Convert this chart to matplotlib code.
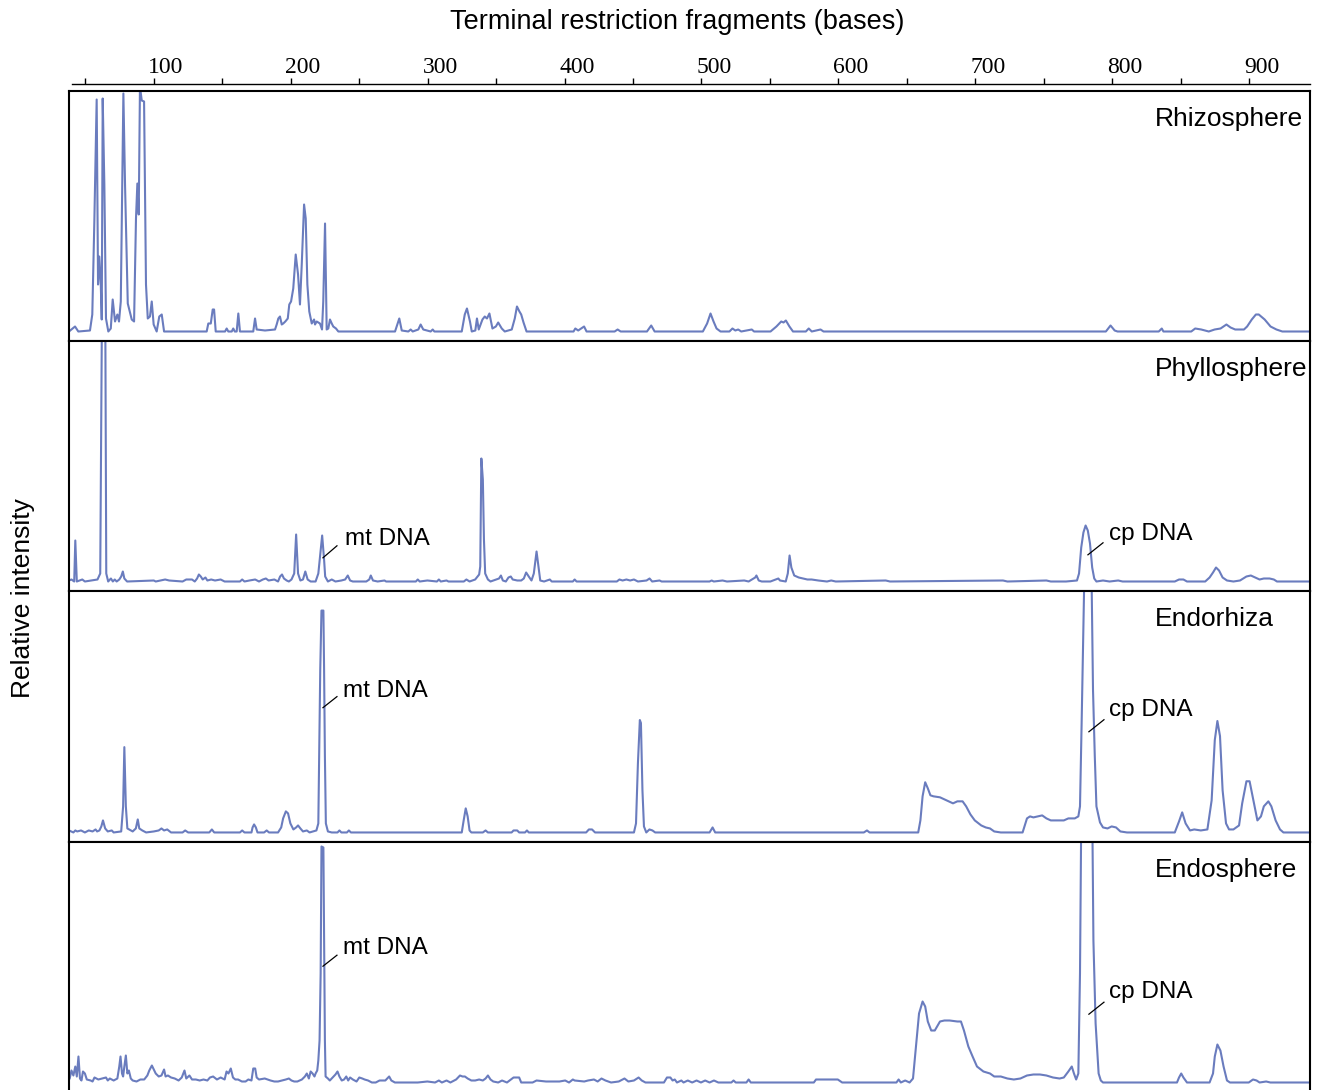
import matplotlib
matplotlib.use("Agg")
import matplotlib.pyplot as plt
from matplotlib.ticker import FixedLocator
from matplotlib.transforms import ScaledTranslation

plt.rcParams["font.family"] = ["Liberation Sans", "DejaVu Sans"]

LINE = "#6a7cbe"
XMIN, XMAX = 38.3, 944.2

# T-RFLP traces: (fragment length in bases, relative intensity)
rhizo = [(38.3,0),(42.7,5),(45.1,0),(53.6,1),(55.3,17),(56.8,110),(58.5,232),(59.5,47),(60.4,75),(61.5,47),
 (62.2,12),(62.9,233),(64.1,147),(65.3,13),(67.0,0),(68.8,3),(70.2,32),(71.9,10),(73.6,17),(74.8,10),(76.1,30),
 (78.0,238),(79.2,147),(81.2,28),(84.1,12),(85.8,10),(87.2,113),(88.2,148),(89.2,117),(90.1,245),(91.4,231),
 (93.1,230),(94.5,47),(95.8,13),(97.4,15),(98.7,30),(100.1,7),(102.3,0),(104.2,15),(106.0,17),(107.7,0),
 (138.8,0),(140.0,8),(141.8,8),(143.2,22),(144.2,22),(145.4,0),(152.2,0),(153.4,3),(154.6,0),(157.1,0),(158.2,3),
 (159.3,0),(160.7,0),(161.9,18),(163.1,0),(172.8,0),(174.1,13),(175.3,2),(181.4,1),(188.7,2),(189.9,7),(191.1,13),
 (192.3,15),(193.6,7),(194.7,8),(196.2,10),(198.0,13),(199.1,27),(200.4,30),(202.0,43),(203.8,77),(205.5,57),
 (206.9,27),(208.2,67),(209.9,127),(211.1,113),(212.3,47),(213.7,20),(215.5,8),(217.2,12),(217.9,7),(219.1,10),
 (220.3,9),(221.5,8),(223.0,2),(223.9,30),(225.2,108),(226.4,2),(227.6,3),(228.8,12),(230.1,8),(231.2,5),
 (233.2,3),(234.9,0),(276.3,0),(278.0,7),(279.4,13),(281.2,1),(286.0,0),(287.7,2),(289.2,0),(293.3,2),(295.0,7),
 (296.9,2),(302.3,0),(303.8,2),(305.0,0),(325.0,0),(327.2,17),(328.8,23),(331.0,10),(332.3,0),(334.9,1),
 (336.1,13),(337.4,2),(340.1,12),(341.8,15),(343.4,13),(345.2,18),(347.4,3),(349.9,5),(351.6,9),(354.2,3),
 (356.4,0),(361.5,2),(363.7,13),(365.3,25),(367.1,20),(368.4,17),(370.1,9),(372.3,0),(406.6,0),(407.9,3),
 (410.0,1),(414.3,5),(416.1,0),(436.6,0),(438.8,2),(441.0,0),(460.2,0),(463.3,6),(465.8,0),(501.0,0),(504.1,8),
 (506.6,18),(508.8,10),(511.0,3),(513.9,0),(520.4,0),(522.6,3),(524.7,1),(526.8,2),(529.0,0),(536.7,2),(538.4,0),
 (550.4,0),(554.7,5),(558.2,10),(559.9,9),(561.6,11),(564.2,5),(566.8,0),(576.2,0),(578.3,3),(580.5,0),(586.9,2),
 (589.1,0),(795.2,0),(798.6,6),(801.6,1),(803.7,0),(833.8,0),(836.0,3),(837.2,0),(857.5,0),(860.4,3),(864.8,2),
 (870.3,0),(874.6,2),(878.9,3),(883.2,7),(886.2,4),(889.6,2),(896.0,2),(898.3,5),(901.7,12),(904.7,17),
 (906.8,17),(911.1,12),(915.4,5),(919.7,2),(924.0,0),(944.2,0)]

phyllo = [(38.3,1),(40.1,2),(42.1,0),(42.9,41),(44.0,0),(48.0,2),(49.9,0),(59.1,2),(61.1,8),(62.5,300),(64.7,300),
 (65.5,8),(66.9,0),(68.9,3),(70.3,0),(71.7,2),(73.1,0),(75.0,2),(76.4,5),(77.6,10),(78.7,3),(80.7,0),(100.2,1),
 (101.6,0),(108.5,2),(111.4,1),(121.2,0),(123.9,2),(128.1,2),(130.1,0),(131.8,3),(133.1,7),(134.5,5),(135.9,2),
 (137.9,4),(139.3,1),(142.1,2),(144.9,1),(149.0,2),(151.9,0),(163.1,0),(164.7,2),(166.4,0),(170.0,1),(174.2,2),
 (177.0,0),(179.8,2),(182.0,3),(184.0,1),(188.2,2),(190.9,0),(192.4,5),(193.8,7),(195.2,3),(197.2,1),(198.8,0),
 (200.7,2),(202.7,8),(204.1,47),(205.5,8),(207.2,1),(209.1,2),(210.8,10),(212.5,2),(214.7,0),(218.3,0),(220.3,8),
 (223.1,46),(224.5,22),(225.3,5),(227.3,0),(230.1,2),(232.8,0),(237.1,1),(239.9,2),(241.8,6),(243.5,1),(245.5,0),
 (255.3,0),(257.5,2),(258.6,6),(260.2,1),(263.6,0),(268.6,1),(269.8,0),(291.5,0),(292.9,2),(294.3,0),(299.9,1),
 (306.9,0),(308.3,2),(309.7,0),(313.9,1),(315.3,0),(326.5,0),(328.4,2),(330.7,0),(334.8,2),(337.7,7),(338.5,15),
 (339.3,123),(340.4,102),(341.2,42),(342.1,8),(344.1,2),(346.0,0),(350.2,2),(352.2,3),(353.6,6),(355.0,1),
 (357.2,0),(359.1,4),(360.8,5),(362.2,2),(365.5,1),(368.4,1),(370.3,3),(372.0,9),(373.9,5),(375.9,1),(377.6,8),
 (379.6,30),(381.0,15),(382.3,1),(385.1,0),(389.3,2),(390.7,0),(406.1,0),(407.4,2),(408.8,0),(438.2,0),(440.1,2),
 (442.4,1),(445.2,2),(447.9,1),(450.7,2),(453.6,0),(459.9,1),(462.1,3),(464.0,0),(469.4,1),(470.9,0),(505.9,0),
 (507.4,1),(509.0,0),(515.4,1),(518.6,0),(531.2,1),(534.4,0),(539.2,4),(540.1,6),(541.8,1),(544.0,0),(550.3,0),
 (556.1,3),(557.3,1),(561.5,0),(563.0,8),(564.3,26),(565.6,14),(567.7,6),(571.0,4),(574.1,3),(577.3,2),(580.4,2),
 (585.3,1),(591.6,0),(594.7,1),(598.0,0),(634.5,1),(637.6,0),(720.1,1),(723.3,0),(751.8,1),(755.0,0),(766.1,0),
 (774.1,1),(775.6,8),(777.2,34),(778.8,49),(780.4,56),(782.0,51),(783.6,38),(785.2,14),(786.7,3),(788.3,0),
 (793.1,1),(797.9,0),(804.2,1),(807.4,0),(845.5,0),(848.6,2),(851.8,2),(854.4,0),(867.7,0),(870.9,4),(873.4,9),
 (875.6,14),(877.8,11),(880.4,4),(883.6,1),(888.3,0),(893.1,1),(897.8,5),(901.0,6),(904.2,4),(907.4,2),(910.5,3),
 (914.7,3),(917.8,2),(920.1,0),(944.2,0)]

endorhiza = [(38.3,2),(41.5,0),(42.9,2),(44.3,1),(47.1,2),(49.9,0),(52.7,2),(55.5,1),(57.7,3),(58.8,1),(60.5,2),
 (61.9,6),(63.1,12),(64.7,4),(66.6,1),(69.5,2),(70.9,0),(76.4,1),(77.8,26),(78.7,85),(79.8,26),(80.9,4),(83.4,2),
 (84.8,1),(87.1,4),(88.5,13),(89.6,4),(91.8,2),(94.6,0),(100.2,1),(103.8,2),(105.8,4),(107.7,2),(110.0,3),
 (112.8,0),(121.2,0),(123.1,2),(125.3,0),(140.7,0),(142.6,3),(144.3,0),(163.1,0),(164.7,2),(166.4,0),(171.5,0),
 (172.3,5),(173.4,8),(174.7,5),(175.9,0),(180.7,0),(182.6,2),(184.3,0),(190.9,0),(193.2,5),(194.6,14),(196.6,21),
 (198.2,19),(199.9,9),(202.1,3),(204.1,5),(205.5,7),(207.2,4),(209.1,1),(211.9,2),(213.9,0),(218.9,2),(220.3,9),
 (221.7,162),(222.6,221),(224.0,221),(224.5,164),(225.1,76),(225.8,9),(227.3,1),(230.1,0),(234.3,0),(235.7,2),
 (237.1,0),(241.2,0),(242.6,2),(244.1,0),(325.0,0),(326.4,12),(327.9,24),(329.3,16),(330.7,2),(332.0,0),
 (340.4,0),(342.4,2),(344.1,0),(361.4,0),(362.8,2),(365.5,2),(366.9,0),(371.2,0),(372.6,2),(373.9,0),(415.8,0),
 (417.8,3),(420.1,3),(422.3,0),(450.7,0),(452.2,9),(453.6,69),(455.0,112),(455.8,109),(456.9,42),(458.0,6),
 (459.7,0),(462.0,3),(464.2,2),(466.2,0),(505.9,0),(508.1,5),(510.0,0),(618.5,0),(620.8,2),(622.7,0),(658.2,0),
 (659.8,12),(661.4,36),(663.3,50),(665.2,44),(667.1,37),(669.3,36),(674.1,35),(678.8,32),(683.6,29),(686.8,31),
 (690.6,31),(693.2,26),(696.3,18),(699.5,12),(704.2,7),(707.5,5),(710.6,4),(713.7,1),(718.5,0),(734.4,0),
 (737.6,14),(739.8,16),(742.3,15),(745.5,16),(748.7,17),(751.8,14),(755.0,12),(759.8,12),(764.5,12),(767.8,14),
 (772.5,14),(775.1,16),(776.3,26),(777.5,109),(778.8,209),(779.8,280),(784.5,280),(785.8,142),(787.1,76),
 (788.3,26),(790.9,10),(793.1,5),(796.4,4),(799.4,6),(802.6,5),(805.8,1),(810.6,0),(845.5,0),(848.6,11),
 (850.9,20),(853.4,9),(856.6,2),(859.7,3),(864.5,2),(869.3,3),(872.4,32),(874.7,92),(876.6,111),(878.5,96),
 (880.4,42),(882.9,9),(885.1,3),(888.3,3),(892.4,7),(894.7,29),(897.8,51),(900.1,51),(903.3,29),(905.8,12),
 (908.4,16),(910.5,26),(913.8,31),(916.0,26),(919.1,12),(922.3,3),(924.8,0),(944.2,0)]

endosphere = [(38.3,3),(38.8,4),(40.1,12),(41.5,7),(42.9,16),(44.0,6),(45.2,26),(46.3,4),(47.4,2),(48.5,11),
 (49.9,9),(51.3,3),(54.1,2),(55.5,1),(56.9,5),(59.7,3),(62.5,4),(65.3,5),(66.6,2),(68.1,4),(70.9,2),(73.6,4),
 (75.0,16),(75.9,26),(77.0,9),(77.8,6),(78.7,16),(79.8,27),(80.9,9),(82.0,12),(83.4,4),(84.8,2),(87.6,1),(90.4,3),
 (93.2,3),(95.5,7),(96.9,12),(98.8,17),(100.2,13),(101.6,9),(103.8,6),(105.8,7),(107.7,13),(108.8,6),(110.5,7),
 (112.8,5),(115.5,4),(118.3,2),(120.6,5),(122.6,12),(123.9,4),(126.2,7),(128.1,3),(130.9,3),(133.7,2),(136.5,3),
 (139.3,2),(141.2,5),(143.5,6),(146.3,3),(149.0,5),(151.9,3),(153.3,11),(154.7,9),(156.4,14),(158.0,5),(159.7,3),
 (161.7,3),(164.5,1),(167.2,1),(169.2,3),(171.5,2),(172.8,14),(174.2,14),(175.3,5),(177.0,3),(181.2,4),(185.4,2),
 (188.2,1),(190.9,1),(193.7,2),(196.6,3),(198.8,4),(200.7,2),(202.7,1),(205.0,1),(208.3,3),(210.5,6),(211.9,9),
 (213.4,4),(214.7,11),(216.1,9),(217.5,6),(218.3,9),(219.5,12),(220.3,22),(221.2,42),(222.0,109),(222.6,236),
 (224.0,235),(224.5,142),(225.1,42),(225.6,6),(227.3,4),(228.7,2),(230.7,5),(232.8,8),(234.3,11),(235.7,6),
 (237.4,2),(239.1,3),(240.7,6),(242.1,2),(243.5,5),(245.5,3),(248.2,1),(250.2,5),(252.4,4),(254.1,3),(256.6,2),
 (259.4,0),(262.2,0),(265.0,2),(269.2,2),(272.0,6),(273.6,2),(276.2,0),(292.9,0),(299.9,1),(305.5,0),(308.3,2),
 (310.5,0),(313.9,2),(316.7,0),(320.9,3),(323.7,7),(325.6,6),(327.3,6),(329.3,4),(332.0,2),(334.8,2),(337.7,3),
 (340.4,2),(342.4,4),(344.1,7),(346.0,3),(348.0,1),(351.6,0),(354.4,2),(358.0,0),(362.8,5),(366.9,5),(368.4,0),
 (376.7,0),(379.6,2),(386.5,1),(396.3,1),(400.5,2),(403.3,0),(406.1,3),(407.4,2),(414.4,1),(417.2,2),(421.5,3),
 (424.2,1),(427.0,4),(429.9,2),(434.0,0),(439.6,1),(443.8,4),(446.6,1),(450.7,2),(454.1,5),(456.4,2),(459.1,0),
 (472.6,0),(474.8,5),(477.3,5),(478.9,2),(480.5,3),(482.1,0),(485.3,2),(486.9,0),(490.0,2),(493.2,0),(496.4,2),
 (499.6,0),(502.7,2),(505.9,0),(509.1,2),(512.3,0),(521.8,0),(523.4,2),(525.0,0),(532.8,0),(534.4,3),(536.0,0),
 (582.0,0),(583.6,3),(590.0,3),(599.5,3),(602.7,0),(642.3,0),(643.9,3),(645.5,0),(648.7,2),(651.9,0),(654.4,4),
 (656.6,36),(658.8,69),(661.4,81),(663.3,76),(665.2,61),(667.7,52),(670.3,52),(674.1,61),(677.3,62),(681.1,62),
 (686.8,61),(689.4,61),(691.6,52),(694.8,36),(697.9,26),(701.1,16),(705.8,11),(710.6,9),(713.7,6),(718.5,6),
 (723.3,4),(728.0,3),(732.8,4),(737.6,7),(742.3,8),(747.1,8),(751.8,7),(756.6,5),(761.4,4),(764.5,5),(767.8,11),
 (770.3,16),(771.9,9),(773.5,3),(775.1,9),(776.3,109),(777.3,280),(785.2,280),(786.1,142),(787.7,59),(789.9,9),
 (791.5,2),(793.1,0),(847.1,0),(848.6,5),(850.2,9),(851.8,5),(854.4,0),(870.9,0),(873.4,9),(874.7,26),(876.6,38),
 (878.8,32),(881.1,16),(883.6,2),(885.8,0),(899.5,0),(902.6,3),(905.2,2),(907.4,0),(912.2,1),(915.3,0),(944.2,0)]

names = ["Rhizosphere", "Phyllosphere", "Endorhiza", "Endosphere"]
traces = [rhizo, phyllo, endorhiza, endosphere]

# labelled peaks: (text, leader start, leader end, text anchor) in (bases, intensity)
peak_notes = {
    "Phyllosphere": [("mt DNA", (223.7, 23.7), (233.9, 35.7), (239.8, 42.7)),
                     ("cp DNA", (782.1, 26.7), (793.1, 38.7), (797.5, 47.7))],
    "Endorhiza": [("mt DNA", (223.7, 124.3), (233.9, 135.3), (238.3, 141.3)),
                  ("cp DNA", (782.8, 100.3), (793.8, 112.3), (797.5, 122.3))],
    "Endosphere": [("mt DNA", (223.7, 116.3), (233.9, 127.3), (238.3, 134.3)),
                   ("cp DNA", (782.8, 68.3), (793.8, 80.3), (797.5, 90.3))],
}

W, H = 1322, 1090
fig = plt.figure(figsize=(W / 100, H / 100), dpi=100)


def box(l, t, r, b):
    return [l / W, 1 - b / H, (r - l) / W, (b - t) / H]


edges = [(91, 341), (341, 591), (591, 842), (842, 1092)]
for name, tr, (t, b) in zip(names, traces, edges):
    ax = fig.add_axes(box(69, t, 1310, b))
    xs = [p[0] for p in tr]; ys = [p[1] for p in tr]
    ax.plot(xs, ys, color=LINE, lw=1.5, solid_joinstyle="round")
    ax.set_xlim(XMIN, XMAX); ax.set_ylim(-9.5, 240.5)
    ax.set_xticks([]); ax.set_yticks([])
    for s in ax.spines.values():
        s.set_linewidth(1.5)
    ax.text(0.875, 0.888, name, transform=ax.transAxes, fontsize=19, ha="left", va="center")
    for txt, p0, p1, pt in peak_notes.get(name, []):
        ax.plot([p0[0], p1[0]], [p0[1], p1[1]], color="black", lw=0.9)
        ax.text(pt[0], pt[1], txt, fontsize=17.5, ha="left", va="center")

# scale bar on top
axt = fig.add_axes([72.3 / W, 1 - 84 / H - 0.0005, (1310 - 72.3) / W, 0.0005])
axt.set_xlim(40.7, XMAX)
axt.set_yticks([])
for k in ["left", "right", "bottom"]:
    axt.spines[k].set_visible(False)
axt.spines["top"].set_linewidth(1.0)
axt.xaxis.tick_top()
axt.xaxis.set_major_locator(FixedLocator(range(100, 1000, 100)))
axt.xaxis.set_minor_locator(FixedLocator(range(50, 1000, 100)))
axt.tick_params(axis="x", which="both", direction="out", length=4, width=1.0, top=True, bottom=False,
                labeltop=True, labelbottom=False, pad=0.5)
axt.patch.set_visible(False)
shift = ScaledTranslation(0.125, 0, fig.dpi_scale_trans)
for lab in axt.get_xticklabels():
    lab.set_fontfamily("Liberation Serif"); lab.set_fontsize(17)
    lab.set_transform(lab.get_transform() + shift)

fig.text(677 / W, 1 - 22 / H, "Terminal restriction fragments (bases)", fontsize=19.5, ha="center", va="center")
fig.text(23 / W, 1 - 598 / H, "Relative intensity", fontsize=19, rotation=90, ha="center", va="center")

fig.savefig("out.png", dpi=100)
